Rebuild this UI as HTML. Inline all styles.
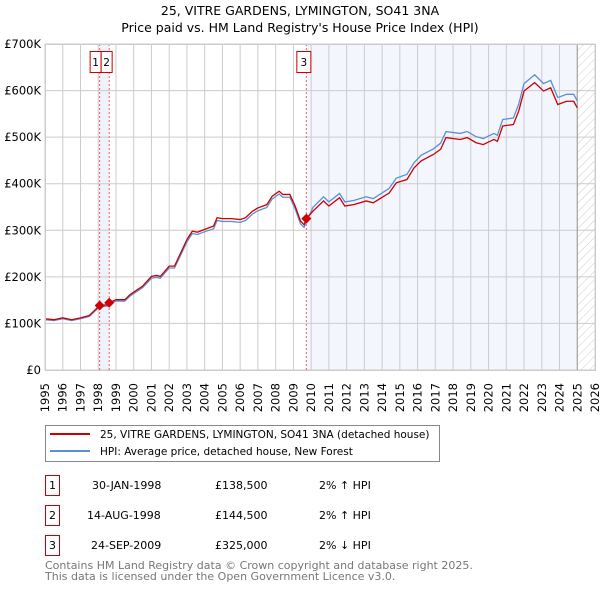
<!DOCTYPE html>
<html><head><meta charset="utf-8"><style>
body{margin:0;background:#fff;font-family:"Liberation Sans","DejaVu Sans",sans-serif;}
svg text{font-family:"DejaVu Sans","Liberation Sans",sans-serif;}
</style></head><body>
<svg id="chart" width="600" height="590" xmlns="http://www.w3.org/2000/svg">
<defs><pattern id="hatch" width="6" height="6" patternUnits="userSpaceOnUse" patternTransform="rotate(45)"><line x1="0" y1="0" x2="0" y2="6" stroke="#ccc" stroke-width="1"/></pattern></defs>
<text x="300" y="15" text-anchor="middle" font-size="12.5">25, VITRE GARDENS, LYMINGTON, SO41 3NA</text>
<text x="300" y="32" text-anchor="middle" font-size="12.5">Price paid vs. HM Land Registry's House Price Index (HPI)</text>
<g id="plot"></g>
<g>
<rect x="45.5" y="425.5" width="394" height="36" fill="#fff" stroke="#888"/>
<line x1="50" y1="434" x2="90" y2="434" stroke="#cc0000" stroke-width="2"/>
<text x="100" y="438" font-size="10.5">25, VITRE GARDENS, LYMINGTON, SO41 3NA (detached house)</text>
<line x1="50" y1="451" x2="90" y2="451" stroke="#5b8fd6" stroke-width="2"/>
<text x="100" y="455" font-size="10.5">HPI: Average price, detached house, New Forest</text>
</g>
<g font-size="11">
<rect x="45.5" y="475.5" width="14" height="20" fill="#fff" stroke="#cc0000"/><text x="52.5" y="489" text-anchor="middle">1</text>
<text x="92" y="489">30-JAN-1998</text><text x="215" y="489">£138,500</text><text x="319" y="489">2% ↑ HPI</text>
<rect x="45.5" y="505.5" width="14" height="20" fill="#fff" stroke="#cc0000"/><text x="52.5" y="519" text-anchor="middle">2</text>
<text x="87" y="519">14-AUG-1998</text><text x="215" y="519">£144,500</text><text x="319" y="519">2% ↑ HPI</text>
<rect x="45.5" y="535.5" width="14" height="20" fill="#fff" stroke="#cc0000"/><text x="52.5" y="549" text-anchor="middle">3</text>
<text x="91" y="549">24-SEP-2009</text><text x="215" y="549">£325,000</text><text x="319" y="549">2% ↓ HPI</text>
</g>
<text x="45" y="569" font-size="11" fill="#777">Contains HM Land Registry data © Crown copyright and database right 2025.</text>
<text x="45" y="580" font-size="11" fill="#777">This data is licensed under the Open Government Licence v3.0.</text>
</svg>
<script>
const years=[1995,1996,1997,1998,1999,2000,2001,2002,2003,2004,2005,2006,2007,2008,2009,2010,2011,2012,2013,2014,2015,2016,2017,2018,2019,2020,2021,2022,2023,2024,2025,2026];
const yTicks=[0,100000,200000,300000,400000,500000,600000,700000];
const yTickLabels=["£0","£100K","£200K","£300K","£400K","£500K","£600K","£700K"];
const propDates=[1995.0,1995.5,1996.0,1996.5,1997.0,1997.5,1998.08,1998.5,1998.62,1999.0,1999.5,1999.8,2000.0,2000.5,2001.0,2001.3,2001.5,2002.0,2002.3,2003.0,2003.3,2003.6,2004.0,2004.5,2004.7,2005.0,2005.5,2006.0,2006.3,2006.7,2007.0,2007.5,2007.8,2008.2,2008.4,2008.8,2009.1,2009.4,2009.6,2009.73,2010.1,2010.7,2011.0,2011.6,2011.9,2012.4,2013.1,2013.5,2014.4,2014.8,2015.4,2015.8,2016.2,2016.9,2017.3,2017.6,2018.4,2018.8,2019.3,2019.7,2020.3,2020.5,2020.8,2021.4,2021.7,2022.0,2022.6,2023.1,2023.5,2023.9,2024.4,2024.8,2025.0];
const propValues=[110,108,112,108,112,117,138.5,140,144.5,151,151,162,167,180,201,203,201,223,223,280,298,296,302,309,327,325,325,323,327,341,348,355,373,384,377,377,352,320,312,325,341,363,352,370,352,355,363,359,380,402,409,434,449,463,474,499,495,499,488,484,495,491,524,527,556,599,617,599,606,570,577,577,563];
const hpiValues=[108,106,110,106,110,115,136,137,142,148,148,159,164,177,197,199,197,219,219,275,293,291,297,303,321,319,319,317,321,335,342,349,367,378,371,371,346,314,306,318,349,372,361,379,361,364,372,368,390,412,420,445,461,475,487,512,508,512,501,497,508,504,538,541,571,615,634,615,622,585,592,592,578];
const saleDates=[1998.08,1998.62,2009.73];
const saleValues=[138500,144500,325000];
const saleLabels=["1","2","3"];
const NS="http://www.w3.org/2000/svg";
const L=45,R=595,T=44,B=370,X0=1995,X1=2026,YMAX=700000;
const xs=v=>L+(v-X0)/(X1-X0)*(R-L);
const ys=v=>B-v/YMAX*(B-T);
const g=document.getElementById('plot');
function mk(t,a){const e=document.createElementNS(NS,t);for(const k in a)e.setAttribute(k,a[k]);g.appendChild(e);return e;}
let e;
e=mk('rect',{x:xs(saleDates[0]),y:T,width:xs(saleDates[1])-xs(saleDates[0]),height:B-T,fill:'#eef2fb'});


e=mk('rect',{x:xs(saleDates[2]),y:T,width:xs(2025.0)-xs(saleDates[2]),height:B-T,fill:'#f3f6fd'});


e=mk('rect',{x:xs(2025.0),y:T,width:R-xs(2025.0),height:B-T,fill:'url(#hatch)'});


years.forEach(y=>{
 e=mk('line',{x1:xs(y),x2:xs(y),y1:T,y2:B,stroke:'#ccc','stroke-width':1});
 
 
 e=mk('text',{x:0,y:0,transform:`translate(${xs(y)+4},383) rotate(-90)`,'text-anchor':'end','font-size':11.5});
 e.textContent=y;
 
 
});
yTicks.forEach((v,i)=>{
 e=mk('line',{x1:L,x2:R,y1:ys(v),y2:ys(v),stroke:'#ccc','stroke-width':1});
 
 
 e=mk('text',{x:41,y:ys(v)+4,'text-anchor':'end','font-size':11.5});
 e.textContent=yTickLabels[i];
 
 
});
e=mk('line',{x1:xs(2025.0),x2:xs(2025.0),y1:T,y2:B,stroke:'#999','stroke-width':1});


saleDates.forEach((d,i)=>{
 e=mk('line',{x1:xs(d),x2:xs(d),y1:T,y2:B,stroke:'#f06060','stroke-width':1,'stroke-dasharray':'2,2'});
 
 
});
e=mk('polyline',{points:propDates.map((d,i)=>xs(d)+','+ys(hpiValues[i]*1000)).join(' '),fill:'none',stroke:'#5b8fd6','stroke-width':1.3});


e=mk('polyline',{points:propDates.map((d,i)=>xs(d)+','+ys(propValues[i]*1000)).join(' '),fill:'none',stroke:'#cc0000','stroke-width':1.3});


saleDates.forEach((d,i)=>{
 const cx=xs(d),cy=ys(saleValues[i]);
 e=mk('polygon',{points:`${cx},${cy-5} ${cx+5},${cy} ${cx},${cy+5} ${cx-5},${cy}`,fill:'#cc0000'});
 
 
});
const boxes=[[xs(saleDates[0])-10,11],[xs(saleDates[0])+1,11],[xs(saleDates[2])-10,14]];
saleLabels.forEach((s,i)=>{
 const bx=boxes[i][0],bw=boxes[i][1];
 e=mk('rect',{x:bx+0.5,y:51.5,width:bw,height:21,fill:'#fff',stroke:'#cc0000'});
 
 
 e=mk('text',{x:bx+0.5+bw/2,y:66,'text-anchor':'middle','font-size':10.5});
 e.textContent=s;
 
 
});
e=mk('rect',{x:L+0.5,y:T+0.5,width:R-L,height:B-T,fill:'none',stroke:'#ccc'});


</script>
</body></html>
